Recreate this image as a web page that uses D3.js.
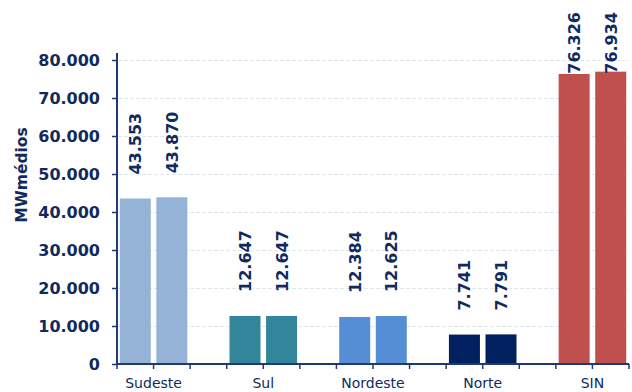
<!DOCTYPE html>
<html>
<head>
<meta charset="utf-8">
<script src="https://cdn.jsdelivr.net/npm/d3@7/dist/d3.min.js"></script>
<style>
  html, body { margin: 0; padding: 0; background: #fff; }
  svg { display: block; font-family: "DejaVu Sans", Verdana, sans-serif; }
</style>
</head>
<body>
<svg id="chart" width="632" height="392"></svg>
<script>
// Carga por subsistema (MWmédios), duas colunas por região
const categories = ["Sudeste", "Sul", "Nordeste", "Norte", "SIN"];
const seriesA = [43553, 12647, 12384, 7741, 76326];
const seriesB = [43870, 12647, 12625, 7791, 76934];
const barColors = ["#95b3d7", "#31869b", "#558ed5", "#002060", "#c0504d"];
const yTicks = [0, 10000, 20000, 30000, 40000, 50000, 60000, 70000, 80000];
const yTitle = "MWmédios";

const textColor = "#112a5e";
const axisColor = "#1f3a73";
const fmt = v => d3.format(",")(v).replace(/,/g, ".");

const svg = d3.select("#chart");
const plotLeft = 117, plotRight = 629, plotBottom = 364, plotTop = 60;

// Slots: two bars per region plus an empty slot between regions
const slots = [];
categories.forEach((c, i) => {
  slots.push(c + "|a", c + "|b");
  if (i < categories.length - 1) slots.push(c + "|gap");
});

const x = d3.scaleBand().domain(slots).range([plotLeft, plotRight]).paddingInner(0).paddingOuter(0);
const barW = 31;
const y = d3.scaleLinear().domain([0, 80000]).range([plotBottom, plotTop]);

// Gridlines
svg.append("g")
  .selectAll("line")
  .data(yTicks.filter(t => t > 0))
  .join("line")
  .attr("x1", plotLeft + 1).attr("x2", plotRight)
  .attr("y1", d => Math.round(y(d)) + 0.5).attr("y2", d => Math.round(y(d)) + 0.5)
  .attr("stroke", "#dde8e8").attr("stroke-width", 1.2)
  .attr("stroke-dasharray", "4,2");

// Bars
const bars = [];
categories.forEach((c, i) => {
  bars.push({ key: c + "|a", value: seriesA[i], color: barColors[i] });
  bars.push({ key: c + "|b", value: seriesB[i], color: barColors[i] });
});

svg.append("g")
  .selectAll("rect")
  .data(bars)
  .join("rect")
  .attr("x", d => x(d.key) + (x.bandwidth() - barW) / 2)
  .attr("width", barW)
  .attr("y", d => y(d.value))
  .attr("height", d => y(0) - y(d.value))
  .attr("fill", d => d.color);

// Value labels, rotated
const labels = svg.append("g")
  .selectAll("text")
  .data(bars)
  .join("text")
  .attr("font-size", 16).attr("font-weight", "bold").attr("fill", textColor)
  .text(d => fmt(d.value));

labels.each(function (d) {
  const len = this.getComputedTextLength();
  const cx = x(d.key) + x.bandwidth() / 2;
  const start = Math.max(y(d.value) - 24, 12 + len);
  d3.select(this)
    .attr("transform", `translate(${cx + 6},${start}) rotate(-90)`);
});

// Y axis
const yAxis = d3.axisLeft(y).tickValues(yTicks).tickSize(5).tickPadding(12).tickFormat(fmt);
const gy = svg.append("g").attr("transform", `translate(${plotLeft},0)`).call(yAxis);
gy.select(".domain").remove();
gy.selectAll(".tick line").attr("stroke", axisColor).attr("stroke-width", 1.5);
gy.selectAll(".tick text")
  .attr("font-family", "DejaVu Sans, Verdana, sans-serif")
  .attr("font-size", 16).attr("font-weight", "bold").attr("fill", textColor);
svg.append("line")
  .attr("x1", plotLeft).attr("x2", plotLeft).attr("y1", 53).attr("y2", plotBottom + 1)
  .attr("stroke", axisColor).attr("stroke-width", 2);

// X axis with ticks at every slot boundary
const boundaries = slots.map(s => x(s)).concat([plotRight]);
svg.append("line")
  .attr("x1", plotLeft).attr("x2", plotRight).attr("y1", plotBottom).attr("y2", plotBottom)
  .attr("stroke", axisColor).attr("stroke-width", 2);
svg.append("g")
  .selectAll("line")
  .data(boundaries)
  .join("line")
  .attr("x1", d => d).attr("x2", d => d)
  .attr("y1", plotBottom).attr("y2", plotBottom + 5)
  .attr("stroke", axisColor).attr("stroke-width", 1.5);

// Category labels centred under each pair of bars
svg.append("g")
  .selectAll("text")
  .data(categories)
  .join("text")
  .attr("x", c => x(c + "|b"))
  .attr("y", 388)
  .attr("text-anchor", "middle")
  .attr("font-size", 14).attr("fill", textColor)
  .text(c => c);

// Y axis title
svg.append("text")
  .attr("transform", `translate(27,${175}) rotate(-90)`)
  .attr("text-anchor", "middle")
  .attr("font-size", 15.5).attr("font-weight", "bold").attr("fill", textColor)
  .text(yTitle);
</script>
</body>
</html>
